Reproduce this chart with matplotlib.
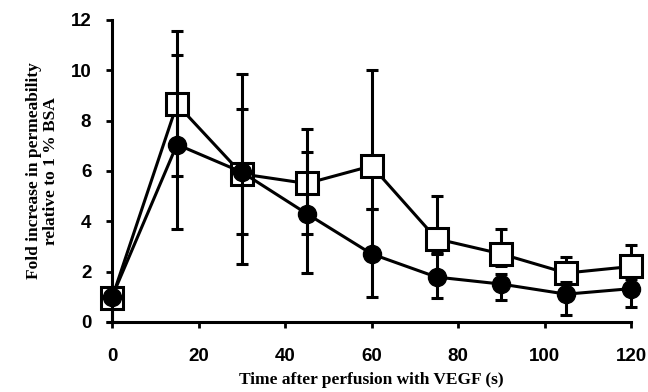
import numpy as np
import matplotlib
matplotlib.use('Agg')
import matplotlib.pyplot as plt

time_s = [0, 15, 30, 45, 60, 75, 90, 105, 120]

# filled circles
circle_mean = [1.0, 7.05, 5.95, 4.3, 2.7, 1.78, 1.5, 1.1, 1.32]
circle_lo = [0.0, 3.7, 3.5, 1.95, 1.0, 0.95, 0.87, 0.28, 0.6]
circle_hi = [1.0, 10.6, 8.45, 6.75, 4.5, 2.7, 1.9, 1.6, 1.7]

# open squares
square_mean = [0.95, 8.65, 5.88, 5.5, 6.2, 3.3, 2.7, 1.94, 2.2]
square_lo = [0.95, 5.8, 2.3, 3.5, 4.5, 2.75, 2.2, 1.7, 1.9]
square_hi = [0.95, 11.55, 9.85, 7.65, 10.0, 5.0, 3.68, 2.58, 3.05]

x_ticks = [0, 20, 40, 60, 80, 100, 120]
y_ticks = [0, 2, 4, 6, 8, 10, 12]

fig = plt.figure(figsize=(6.48, 3.92), dpi=100)
ax = fig.add_axes([0.173, 0.179, 0.801, 0.77])

sq_m = np.array(square_mean)
sq_err = [sq_m - np.array(square_lo), np.array(square_hi) - sq_m]
ci_m = np.array(circle_mean)
ci_err = [ci_m - np.array(circle_lo), np.array(circle_hi) - ci_m]

ax.errorbar(time_s, square_mean, yerr=sq_err, color='black', lw=2.2,
            elinewidth=2.2, capsize=4, capthick=2.2, marker='s', ms=15.5,
            mfc='white', mec='black', mew=2.2, clip_on=False, zorder=3)
ax.errorbar(time_s, circle_mean, yerr=ci_err, color='black', lw=2.2,
            elinewidth=2.2, capsize=4, capthick=2.2, marker='o', ms=13,
            mfc='black', mec='black', clip_on=False, zorder=4)

ax.set_xlim(0, 120)
ax.set_ylim(0, 12)
ax.set_xticks(x_ticks)
ax.set_yticks(y_ticks)
for s in ['top', 'right']:
    ax.spines[s].set_visible(False)
for s in ['left', 'bottom']:
    ax.spines[s].set_linewidth(2.2)
ax.tick_params(axis='both', width=2, length=4, direction='out', labelsize=13.5)
ax.tick_params(axis='x', pad=15)
ax.tick_params(axis='y', pad=11)
for lab in ax.get_xticklabels() + ax.get_yticklabels():
    lab.set_family('Liberation Sans')
    lab.set_fontweight('bold')

ax.set_xlabel('Time after perfusion with VEGF (s)', family='Liberation Serif',
              fontweight='bold', fontsize=12.5, labelpad=5)
ax.set_ylabel('Fold increase in permeability\nrelative to 1 % BSA',
              family='Liberation Serif', fontweight='bold', fontsize=12.5,
              labelpad=8, linespacing=1.1)

fig.savefig('out.png', dpi=100)
